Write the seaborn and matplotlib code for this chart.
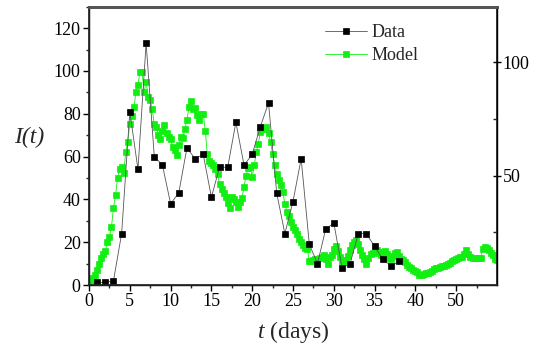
import numpy as np
import pandas as pd
import matplotlib
matplotlib.use("Agg")
import matplotlib.pyplot as plt
from matplotlib.ticker import FixedLocator, NullFormatter
import seaborn as sns

# ---- data ----
data_days = list(range(1, 39))
data_vals = [1.2, 1.2, 2, 24, 81, 54, 113, 60, 56, 38, 43, 64, 59, 61, 41, 55, 55, 76,
             56, 61, 74, 85, 43, 24, 39, 59, 19, 10, 26, 29, 8, 10, 24, 24, 18, 12, 9, 11]

model_days_a = [i * 0.25 for i in range(0, 161)]          # 0 .. 40
model_vals_a = [1, 2, 3.2, 4.7, 7, 10, 12.5, 14.5, 16, 20, 22.6, 27, 36, 42, 50, 54,
                55, 52.5, 62, 67, 75, 79, 83, 90, 93.5, 99.7, 99.7, 90, 95, 88, 86.4, 82,
                75, 74, 70, 68, 72, 74.8, 71, 69, 68, 64.6, 63, 60.7, 65.4, 69, 68.5, 73,
                77, 83, 86, 82, 82.6, 79.4, 77, 80, 80, 72, 61, 58, 57, 56, 54, 52,
                47, 45, 43, 41, 38.5, 36, 41, 40, 39, 36.6, 39, 40.5, 46, 51, 54.5, 55.3,
                50.5, 56, 62, 66, 71.6, 73, 73, 74, 71, 67, 61, 56, 52, 49, 46.7, 43.5,
                38, 34, 32, 29.5, 27, 25.5, 23.7, 21.5, 20, 18.5, 17.5, 17, 11, 11.3, 11.7, 12,
                12.3, 12.5, 13, 13.8, 12, 10, 13, 14, 17, 18, 16, 13, 11, 11, 11.5, 13.5,
                16.5, 18.5, 20.2, 21, 19, 16.4, 14, 12, 10, 12.5, 14.3, 14.8, 15.5, 16.4, 15, 14,
                15.5, 16, 14.5, 12.5, 12, 13.5, 15, 15.6, 13.5, 12.3, 11.9, 10.8, 9.3, 8.5, 7.9, 7,
                6.5]
model_days_b = [40 + i * 0.5 for i in range(1, 41)]       # 40.5 .. 60
model_vals_b = [6, 4.7, 4.8, 5, 5.5, 5.8, 6.2, 6.5, 7.3, 7.8, 8, 8.6, 8.8, 9, 9.3, 9.6,
                10.3, 11, 11.5, 12.3, 12.6, 13, 13.3, 14.5, 16.4, 14.5, 13, 12.5, 12.5, 12.5,
                12.5, 12.5, 17, 17.9, 17.5, 16.4, 15, 14, 12, 11.5]

x_major = [0, 5, 10, 15, 20, 25, 30, 35, 40, 50]
x_minor = [2.5, 7.5, 12.5, 17.5, 22.5, 27.5, 32.5, 37.5, 45, 55]
y_major = [0, 20, 40, 60, 80, 100, 120]
y2_major = [50, 100]

df_data = pd.DataFrame({"day": data_days, "I": data_vals})
df_model = pd.DataFrame({"day": model_days_a + model_days_b,
                         "I": model_vals_a + model_vals_b})

# ---- style ----
sns.set_theme(style="ticks")
plt.rcParams["font.family"] = ["Liberation Serif", "DejaVu Serif"]
plt.rcParams["mathtext.fontset"] = "custom"
plt.rcParams["mathtext.it"] = "Liberation Serif:italic"
plt.rcParams["mathtext.rm"] = "Liberation Serif"

fig = plt.figure(figsize=(5.34, 3.47), dpi=100)
ax = fig.add_axes([89 / 534, 1 - 285 / 347, 408 / 534, (285 - 6.7) / 347])


def fwd(x):
    x = np.asarray(x, dtype=float)
    return np.where(x <= 40, x, 40 + (x - 40) / 2.0)


def inv(y):
    y = np.asarray(y, dtype=float)
    return np.where(y <= 40, y, 40 + (y - 40) * 2.0)


ax.set_xscale("function", functions=(fwd, inv))

green = "#11ee11"
sns.lineplot(data=df_model, x="day", y="I", ax=ax, color=green, linewidth=0.6,
             marker="s", markersize=4.3, markeredgewidth=0.5,
             markeredgecolor=green, markerfacecolor=green,
             label="Model", zorder=2)
sns.lineplot(data=df_data, x="day", y="I", ax=ax, color="#555555", linewidth=0.6,
             marker="s", markersize=5.0, markeredgewidth=0.5,
             markeredgecolor="black", markerfacecolor="black",
             label="Data", zorder=3)

ax.set_xlim(0, 60)
ax.set_ylim(0, 130)
ax.xaxis.set_major_locator(FixedLocator(x_major))
ax.xaxis.set_minor_locator(FixedLocator(x_minor))
ax.xaxis.set_minor_formatter(NullFormatter())
ax.set_xticklabels([str(v) for v in x_major])
ax.yaxis.set_major_locator(FixedLocator(y_major))
ax.yaxis.set_minor_locator(FixedLocator([10, 30, 50, 70, 90, 110, 130]))
ax.tick_params(axis="both", which="major", direction="out", length=4, width=1,
               labelsize=13, colors="black", pad=2)
ax.tick_params(axis="both", which="minor", direction="out", length=2.5, width=1)

for side in ["left", "bottom"]:
    ax.spines[side].set_color("black")
    ax.spines[side].set_linewidth(1.0)
ax.spines["top"].set_visible(True)
ax.spines["top"].set_color("#555555")
ax.spines["top"].set_linewidth(2.0)

ax2 = ax.twinx()
ax2.set_ylim(1.8, 124.5)
ax2.yaxis.set_major_locator(FixedLocator(y2_major))
ax2.yaxis.set_minor_locator(FixedLocator([25, 75]))
ax2.tick_params(axis="y", which="major", direction="inout", length=6, width=1,
                labelsize=13, colors="black", pad=1)
ax2.tick_params(axis="y", which="minor", direction="in", length=3, width=1)
ax2.spines["right"].set_color("black")
ax2.spines["right"].set_linewidth(1.0)
ax2.spines["top"].set_color("#555555")
ax2.spines["top"].set_linewidth(2.0)

ax.set_xlabel(r"$t$ (days)", fontsize=17, labelpad=6)
ax.set_ylabel("")
fig.text(29 / 534, 1 - 137 / 347, "I(t)", fontsize=17, fontstyle="italic",
         ha="center", va="center")

handles, labels = ax.get_legend_handles_labels()
order = [labels.index("Data"), labels.index("Model")]
leg = ax.legend([handles[i] for i in order], [labels[i] for i in order],
                loc="upper left", bbox_to_anchor=(0.543, 0.99), frameon=False,
                fontsize=13, handlelength=2.3, handletextpad=0.3, labelspacing=0.35,
                borderaxespad=0.4)

fig.savefig("out.png", dpi=100)
